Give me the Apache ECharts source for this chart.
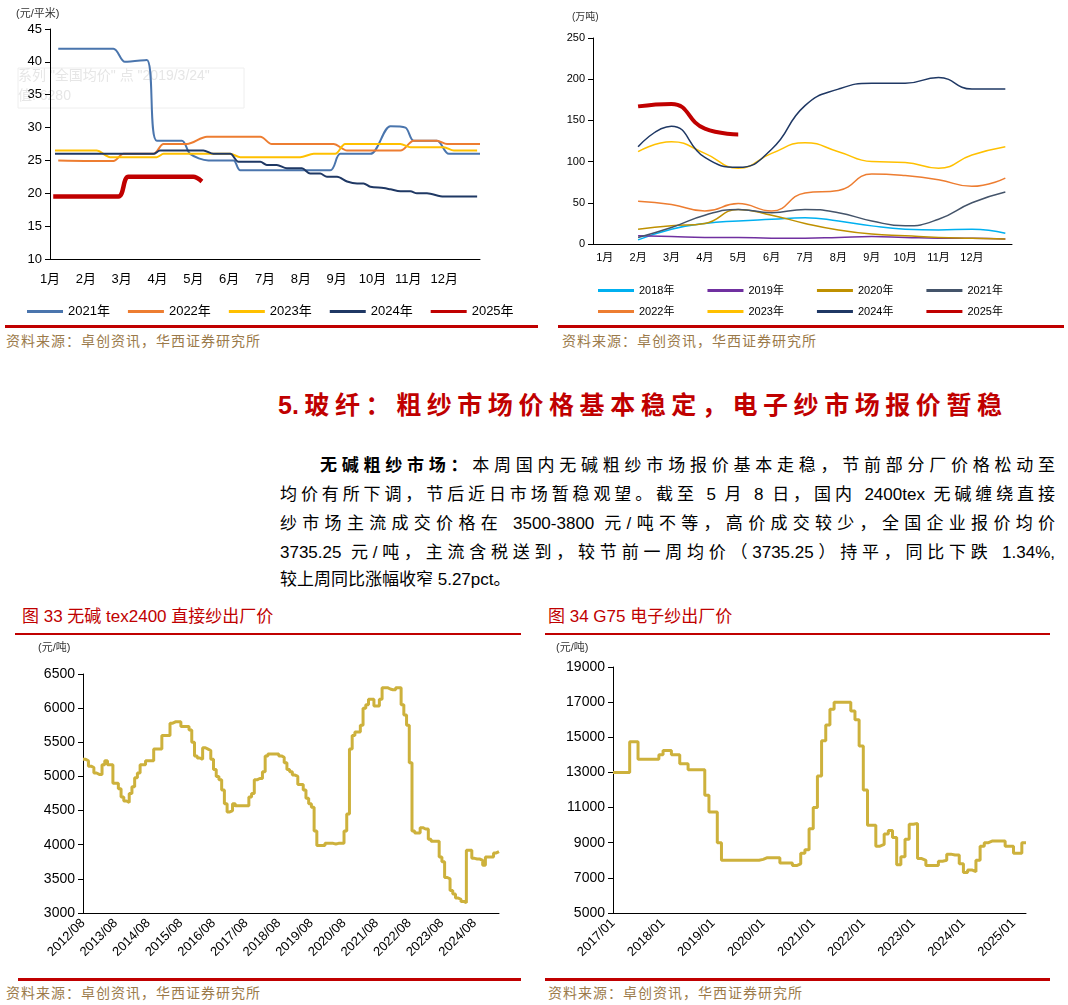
<!DOCTYPE html>
<html><head><meta charset="utf-8">
<script src="https://cdn.jsdelivr.net/npm/echarts@6/dist/echarts.min.js"></script>
<style>
body{margin:0;background:#fff;width:1068px;height:1005px;position:relative;overflow:hidden;font-family:"Liberation Sans","Noto Sans CJK SC",sans-serif}
.c{position:absolute}
.src{position:absolute;font-size:14px;color:#9b7a4a;font-family:"Noto Sans CJK SC";letter-spacing:1px}
.rl{position:absolute;height:3px;background:#c00000}
.ft{position:absolute;font-size:17px;color:#c00000;font-family:"Liberation Sans","Noto Sans CJK SC"}
.pl{position:absolute;left:280px;width:775px;font-size:17px;line-height:20px;text-align:justify;text-align-last:justify;color:#000;font-family:'Liberation Sans','Noto Sans CJK SC';white-space:nowrap}
</style></head><body>
<div id="c1" class="c" style="left:0;top:0;width:540px;height:325px"></div>
<div id="c2" class="c" style="left:555px;top:0;width:513px;height:325px"></div>
<div id="c3" class="c" style="left:0;top:640px;width:540px;height:340px"></div>
<div id="c4" class="c" style="left:540px;top:640px;width:528px;height:340px"></div>
<div class="rl" style="left:5px;top:325px;width:533px"></div>
<div class="rl" style="left:558px;top:325px;width:506px"></div>
<div class="src" style="left:6px;top:330px">资料来源：卓创资讯，华西证券研究所</div>
<div class="src" style="left:562px;top:330px">资料来源：卓创资讯，华西证券研究所</div>
<div style="position:absolute;left:278px;top:385px;width:724px;font-size:25px;font-weight:bold;color:#c00000;font-family:'Liberation Sans','Noto Sans CJK SC';text-align:justify;text-align-last:justify;white-space:nowrap">5.玻纤：粗纱市场价格基本稳定，电子纱市场报价暂稳</div>
<div class="pl" style="top:456px;left:320px;width:735px"><b>无碱粗纱市场：</b>本周国内无碱粗纱市场报价基本走稳，节前部分厂价格松动至</div>
<div class="pl" style="top:485px">均价有所下调，节后近日市场暂稳观望。截至 5 月 8 日，国内 2400tex 无碱缠绕直接</div>
<div class="pl" style="top:514px">纱市场主流成交价格在 3500-3800 元/吨不等，高价成交较少，全国企业报价均价</div>
<div class="pl" style="top:543px">3735.25 元/吨，主流含税送到，较节前一周均价（3735.25）持平，同比下跌 1.34%,</div>
<div class="pl" style="top:570px;text-align-last:left;text-align:left">较上周同比涨幅收窄 5.27pct。</div>
<div class="ft" style="left:22px;top:602px">图 33 无碱 tex2400 直接纱出厂价</div>
<div class="ft" style="left:548px;top:602px">图 34 G75 电子纱出厂价</div>
<div class="rl" style="left:15px;top:633px;width:506px;height:2px"></div>
<div class="rl" style="left:545px;top:633px;width:505px;height:2px"></div>
<div class="rl" style="left:18px;top:978px;width:503px"></div>
<div class="rl" style="left:545px;top:978px;width:505px"></div>
<div class="src" style="left:6px;top:982px">资料来源：卓创资讯，华西证券研究所</div>
<div class="src" style="left:548px;top:982px">资料来源：卓创资讯，华西证券研究所</div>
<script>
// ---- chart 1: price (元/平米), x in month units
const months1 = ['1月','2月','3月','4月','5月','6月','7月','8月','9月','10月','11月','12月'];
const y2021 = [[1.23,42],[2.77,42],[3.09,40],[3.70,40.3],[3.98,28],[4.68,28],[4.91,26],[5.42,25],[6.12,25],[6.31,23.5],[8.82,23.5],[9.10,26],[9.94,26],[10.5,30.2],[10.92,30],[11.15,28],[11.80,28],[12.13,26],[13.0,26]];
const y2022 = [[1.23,25],[2.77,24.9],[3.05,26],[3.89,26],[4.17,27.5],[4.82,27.5],[5.38,28.6],[6.87,28.6],[7.19,27.5],[8.91,27.5],[9.29,26.5],[10.78,26.5],[11.15,28],[11.80,28],[12.08,27.5],[13.0,27.5]];
const y2023 = [[1.14,26.5],[2.30,26.5],[2.68,25.5],[3.98,25.5],[4.17,26],[6.03,26],[6.31,25.5],[7.98,25.5],[8.36,26],[8.96,26],[9.24,27.5],[10.78,27.5],[11.06,27],[11.99,27],[12.27,26.5],[12.92,26.5]];
const y2024 = [[1.14,26],[3.89,26],[4.07,26.5],[5.28,26.5],[5.56,26],[6.03,26],[6.26,24.8],[6.87,24.8],[7.05,24.3],[7.33,24.3],[7.61,23.8],[8.03,23.8],[8.26,23],[8.54,23],[8.73,22.5],[9.01,22.5],[9.29,21.8],[9.57,21.5],[9.75,21.5],[9.94,21],[10.31,20.8],[10.5,20.6],[10.78,20.3],[11.06,20.3],[11.24,20],[11.52,20],[11.99,19.5],[12.92,19.5]];
const y2025 = [[1.09,19.5],[2.91,19.5],[3.19,22.5],[5.0,22.5],[5.24,21.8]];
// ---- chart 2: inventory (万吨), monthly from Feb
const months2 = [2,3,4,5,6,7,8,9,10,11,12,13];
const inv2018 = [5,18,25,28,30,32,28,22,18,17,18,13];
const inv2019 = [10,9,8,8,7,7,8,9,8,7,7,6];
const inv2020 = [18,22,25,42,35,25,17,12,10,8,7,6];
const inv2021 = [8,20,35,42,38,42,38,28,22,30,50,63];
const inv2022 = [52,48,40,49,40,62,65,85,83,78,70,80];
const inv2023 = [112,124,110,92,110,123,112,100,99,92,108,118];
const inv2024 = [118,143,105,93,115,168,188,195,195,202,188,188];
const inv2025 = [167,170,140,133];
// ---- chart 3: tex2400 monthly 2012/08 - 2025/05
const tex = [5250,5230,5150,5130,5050,5030,5030,5170,5230,5170,5170,4900,
4900,4820,4700,4640,4620,4750,4850,4980,5050,5170,5170,5230,
5230,5230,5400,5400,5400,5600,5600,5600,5780,5800,5800,5800,
5730,5730,5730,5680,5500,5300,5270,5250,5420,5400,5380,5250,
5100,5000,4950,4800,4600,4480,4500,4600,4570,4570,4570,4570,
4570,4700,4750,4950,4970,4970,5070,5300,5330,5330,5330,5330,
5300,5280,5200,5100,5070,5020,5000,4880,4880,4800,4680,4600,
4550,4200,3990,3990,3990,4020,4020,4020,4010,4020,4020,4020,
4200,4450,5400,5600,5650,5650,5750,6000,6050,6130,6130,6030,
6030,6130,6300,6300,6280,6270,6270,6300,6300,6050,5900,5750,
5200,4200,4170,4170,4250,4230,4230,4080,4050,4050,4050,3820,
3750,3520,3500,3330,3280,3220,3200,3170,3150,3920,3920,3800,
3790,3790,3770,3700,3820,3820,3820,3880,3900,3900];
// ---- chart 4: G75 monthly 2017/01 - 2025/04
const g75 = [13000,13000,13000,13000,14750,14750,13750,13750,13750,13750,13750,14000,
14250,14250,14000,14000,13500,13500,13150,13150,13150,13150,11700,10750,
10750,9000,8000,8000,8000,8000,8000,8000,8000,8000,8000,8050,
8150,8150,8150,8150,7850,7850,7850,7700,7800,8400,8600,9800,
11000,12800,14800,15700,16600,17000,17000,17000,17000,16500,16000,14500,
12000,10000,10000,8800,8900,9500,9700,9300,7750,8200,9200,10050,
10100,8100,8000,7700,7700,7700,7950,8000,8350,8300,8300,7800,
7300,7450,7350,8000,8800,9000,9100,9100,9100,9100,8800,8800,
8400,8400,9000,9000];
function monthCats(y,m,n){const a=[];for(let i=0;i<n;i++){a.push(y+'/'+String(m).padStart(2,'0'));m++;if(m>12){m=1;y++;}}return a;}
const cats3 = monthCats(2012,8,tex.length);
const cats4 = monthCats(2017,1,g75.length);

const F = '"Liberation Sans","Noto Sans CJK SC",sans-serif';
const ax = {lineStyle:{color:'#000'}};

// chart1
const c1 = echarts.init(document.getElementById('c1'));
const ser1 = [['2021年',y2021,'#4a75ad',2],['2022年',y2022,'#ed7d31',2],['2023年',y2023,'#ffc000',2],['2024年',y2024,'#1f3864',2],['2025年',y2025,'#c00000',4.5]];
c1.setOption({
  animation:false, textStyle:{fontFamily:F},
  grid:{left:50,top:29,width:430,height:230},
  graphic:[{type:'text',left:16,top:8,style:{text:'(元/平米)',fontSize:11,fill:'#333',fontFamily:F}},
    {type:'rect',shape:{x:18,y:68,width:226,height:40},style:{fill:'rgba(255,255,255,0.6)',stroke:'#eee'}},
    {type:'text',left:18,top:66,style:{text:'系列 "全国均价" 点 "2019/3/24"\n值: 6280',fontSize:14,lineHeight:20,fill:'#e6e6e6',fontFamily:F}}],
  legend:{bottom:2,left:22,itemWidth:36,itemHeight:3,itemGap:18,textStyle:{fontSize:13,color:'#000'},icon:'rect',
    data:ser1.map(s=>s[0])},
  xAxis:{type:'value',min:1,max:13,interval:1,axisLine:ax,axisTick:{show:false},splitLine:{show:false},
    axisLabel:{fontSize:13,color:'#000',margin:14,formatter:v=>v>=1&&v<=12?months1[v-1]:''}},
  yAxis:{type:'value',min:10,max:45,interval:5,axisLine:{show:true,lineStyle:{color:'#000'}},axisTick:{show:true,lineStyle:{color:'#000'}},splitLine:{show:false},axisLabel:{fontSize:13,color:'#000'}},
  series:ser1.map(s=>({name:s[0],type:'line',data:s[1],smooth:0.3,showSymbol:false,lineStyle:{color:s[2],width:s[3]},itemStyle:{color:s[2]}}))
});

// chart2
const c2 = echarts.init(document.getElementById('c2'));
const ser2 = [['2018年',inv2018,'#00b0f0',1.5],['2019年',inv2019,'#7030a0',1.5],['2020年',inv2020,'#bf9000',1.5],['2021年',inv2021,'#44546a',1.5],
  ['2022年',inv2022,'#ed7d31',1.5],['2023年',inv2023,'#ffc000',1.5],['2024年',inv2024,'#1f3864',1.5],['2025年',inv2025,'#c00000',4]];
const lg = (names,top)=>({top:top,left:38,itemWidth:36,itemHeight:3,itemGap:33,icon:'rect',textStyle:{fontSize:11,color:'#000'},data:names});
c2.setOption({
  animation:false, textStyle:{fontFamily:F},
  grid:{left:38,top:38,width:419,height:206},
  graphic:[{type:'text',left:17,top:12,style:{text:'(万吨)',fontSize:10,fill:'#333',fontFamily:F}}],
  legend:[lg(ser2.slice(0,4).map(s=>s[0]),280),lg(ser2.slice(4).map(s=>s[0]),301)],
  xAxis:{type:'value',min:0.65,max:13.2,axisLine:ax,axisTick:{show:false},splitLine:{show:false},
    axisLabel:{fontSize:11,color:'#000',customValues:[1,2,3,4,5,6,7,8,9,10,11,12],formatter:v=>months1[Math.round(v)-1]}},
  yAxis:{type:'value',min:0,max:250,interval:50,axisLine:{show:true,lineStyle:{color:'#000'}},axisTick:{show:true,lineStyle:{color:'#000'}},splitLine:{show:false},axisLabel:{fontSize:11,color:'#000'}},
  series:ser2.map(s=>({name:s[0],type:'line',data:s[1].map((v,i)=>[months2[i],v]),smooth:true,showSymbol:false,lineStyle:{color:s[2],width:s[3]},itemStyle:{color:s[2]}}))
});

// chart 3 & 4
function priceChart(id,cats,data,grid,ymin,ymax,step,lbl){
  const c = echarts.init(document.getElementById(id));
  c.setOption({
    animation:false, textStyle:{fontFamily:F},
    grid:grid,
    graphic:[{type:'text',left:lbl,top:2,style:{text:'(元/吨)',fontSize:11,fill:'#333',fontFamily:F}}],
    xAxis:{type:'category',data:cats,boundaryGap:false,axisLine:ax,axisTick:{show:false},
      axisLabel:{interval:11,rotate:45,fontSize:13,color:'#000',margin:8}},
    yAxis:{type:'value',min:ymin,max:ymax,interval:step,axisLine:{show:true,lineStyle:{color:'#000'}},axisTick:{show:true,lineStyle:{color:'#000'}},splitLine:{show:false},axisLabel:{fontSize:14,color:'#000',formatter:v=>String(v)}},
    series:[{type:'line',data:data,step:'end',showSymbol:false,lineStyle:{color:'#cdb13c',width:3}}]
  });
}
priceChart('c3',cats3,tex,{left:83,top:34,width:416,height:239},3000,6500,500,38);
priceChart('c4',cats4,g75,{left:73,top:27,width:413,height:246},5000,19000,2000,16);
</script>
</body></html>
